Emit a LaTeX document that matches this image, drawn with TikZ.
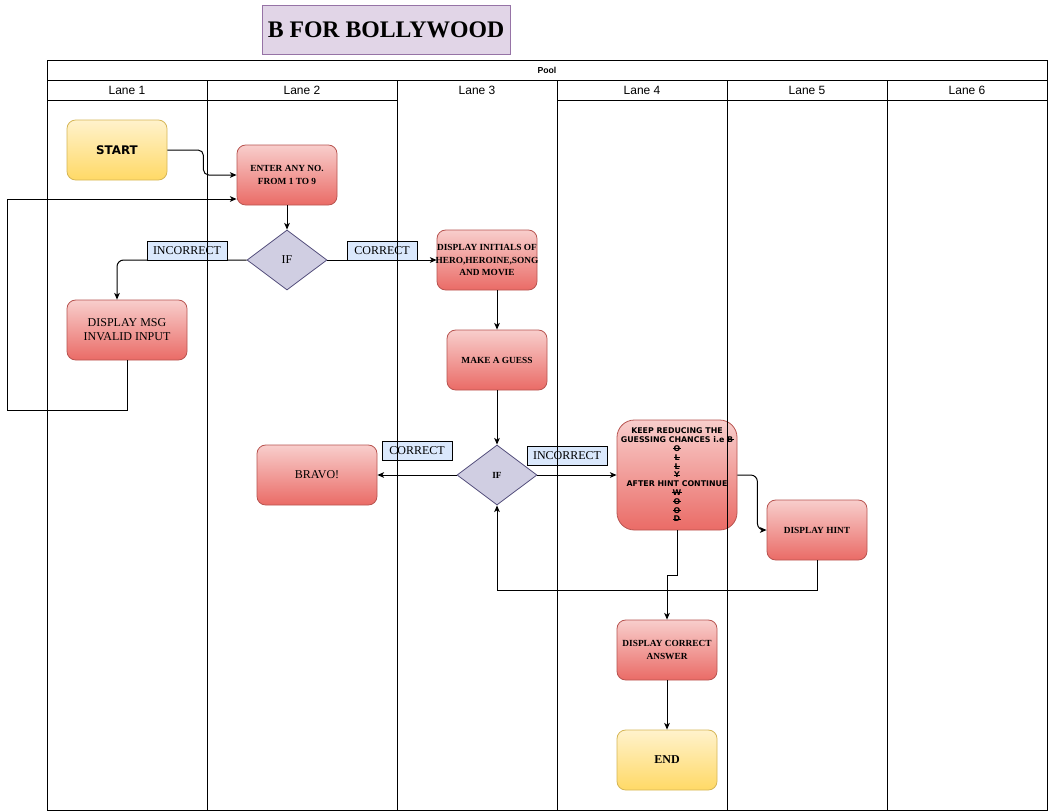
\documentclass[tikz,border=0pt]{standalone}
\usepackage{fontspec}
\setmainfont{Liberation Serif}
\newfontfamily\lanefont{Liberation Sans}
\newfontfamily\verd{DejaVu Sans}
\usetikzlibrary{arrows.meta,shapes.geometric,calc}

\definecolor{redtop}{HTML}{F8CECC}
\definecolor{redbot}{HTML}{EA6B66}
\definecolor{redline}{HTML}{B85450}
\definecolor{yeltop}{HTML}{FFF2CC}
\definecolor{yelbot}{HTML}{FFD966}
\definecolor{yelline}{HTML}{D6B656}
\definecolor{difill}{HTML}{D0CEE2}
\definecolor{diline}{HTML}{56517E}
\definecolor{lblfill}{HTML}{DAE8FC}
\definecolor{ttlfill}{HTML}{E1D5E7}
\definecolor{ttlline}{HTML}{9673A6}

% struck-through letter
\newsavebox\strkbox
\newcommand\strk[1]{\sbox\strkbox{#1}\rlap{\hbox to \wd\strkbox{\hss\rule[0.33em]{1.2\wd\strkbox}{0.6pt}\hss}}\usebox\strkbox}

\begin{document}
\begin{tikzpicture}[x=0.75pt,y=-0.75pt,
  box/.style={inner sep=0pt, align=center, line width=0.6pt, minimum width=75pt, minimum height=45pt},
  redbox/.style={box, draw=redline, top color=redtop, bottom color=redbot, rounded corners=6.5pt},
  yelbox/.style={box, draw=yelline, top color=yeltop, bottom color=yelbot, rounded corners=6.5pt},
  decision/.style={diamond, draw=diline, fill=difill, line width=0.6pt, inner sep=0pt, minimum width=60pt, minimum height=45pt},
  lbl/.style={draw=black, fill=lblfill, line width=0.6pt, inner sep=0pt, minimum height=14.25pt, font=\fontsize{9}{10}\selectfont},
  rtxt/.style={font=\fontsize{7}{9.2}\selectfont\bfseries},
  ntxt/.style={font=\fontsize{9}{10.5}\selectfont},
  conn/.style={line width=0.75pt, -{Stealth[length=5pt,width=4.2pt,inset=1.3pt]}},
  lane/.style={line width=0.75pt, draw=black},
  lanetitle/.style={font=\lanefont\fontsize{9}{10}\selectfont}
]
\useasboundingbox (0,0) rectangle (1048,811);
\fill[white] (0,0) rectangle (1048,811);

% title
\node[draw=ttlline, fill=ttlfill, line width=0.6pt, minimum width=186pt, minimum height=37pt, inner sep=0pt,
      font=\fontsize{17.8}{20}\selectfont\bfseries] (title) at (386,30) {B FOR BOLLYWOOD};

% steps
\node[yelbox, font=\verd\bfseries\fontsize{8.9}{10}\selectfont] (start) at (117,150) {START};
\node[redbox, rtxt] (enter) at (287,175) {ENTER ANY NO.\\FROM 1 TO 9};
\node[decision, ntxt] (if1) at (287,260) {IF};
\node[redbox, rtxt] (init) at (487,260) {\makebox[70pt]{DISPLAY INITIALS OF}\\\makebox[70pt]{HERO,HEROINE,SONG}\\AND MOVIE};
\node[redbox, ntxt, minimum width=90pt] (msg) at (127,330) {DISPLAY MSG\\INVALID INPUT};
\node[redbox, rtxt] (guess) at (497,360) {MAKE A GUESS};
\node[decision, font=\fontsize{7}{8}\selectfont\bfseries] (if2) at (497,475) {IF};
\node[redbox, ntxt, minimum width=90pt] (bravo) at (317,475) {BRAVO!};
\node[redbox, minimum width=90pt, minimum height=82.5pt, rounded corners=13pt,
      font=\verd\bfseries\fontsize{5.9}{6.6}\selectfont] (keep) at (677,475)
  {KEEP REDUCING THE\\GUESSING CHANCES i.e \strk{B}\\\strk{O}\\\strk{L}\\\strk{L}\\\strk{Y}\\AFTER HINT CONTINUE\\\strk{W}\\\strk{O}\\\strk{O}\\\strk{D}};
\node[redbox, rtxt] (hint) at (817,530) {DISPLAY HINT};
\node[redbox, rtxt] (answer) at (667,650) {DISPLAY CORRECT\\ANSWER};
\node[yelbox, font=\fontsize{9}{10}\selectfont\bfseries] (end) at (667,760) {END};

% connectors
\draw[conn, rounded corners=4pt] (start.east) -- ($(start.east)+(36,0)$) |- (enter.west);
\draw[conn] (msg.south) |- ($(msg.south)+(-120,50)$) |- ($(enter.west)+(0,24)$);
\draw[conn] (enter.south) -- (if1.north);
\draw[conn, rounded corners=5pt] (if1.west) -| ($(msg.north)+(-10,0)$);
\draw[conn] (if1.east) -- (init.west);
\draw[conn] (init.south -| guess.north) -- (guess.north);
\draw[conn] (guess.south) -- (if2.north);
\draw[conn] (if2.west) -- (bravo.east);
\draw[conn] (if2.east) -- (keep.west);
\draw[conn, rounded corners=5pt] (keep.east) -- ($(keep.east)+(20,0)$) |- (hint.west);
\draw[conn] (hint.south) -- ($(hint.south)+(0,30)$) -| (if2.south);
\draw[conn] (keep.south) -- ($(keep.south)+(0,45)$) -| (answer.north);
\draw[conn] (answer.south) -- (end.north);

% edge labels
\node[lbl, minimum width=60pt] (l1) at (187,250.5) {INCORRECT};
\node[lbl, minimum width=52.5pt] (l2) at (382,250.5) {CORRECT};
\node[lbl, minimum width=52.5pt] (l3) at (417,450.5) {CORRECT};
\node[lbl, minimum width=60pt] (l4) at (567,455.5) {INCORRECT};

% pool and lanes
\draw[lane] (47,60) rectangle (1047,810);
\draw[lane] (47,80) -- (1047,80);
\draw[lane] (47,100) -- (397,100);
\draw[lane] (557,100) -- (1047,100);
\foreach \xx in {207,397,557,727,887} \draw[lane] (\xx,80) -- (\xx,810);
\node[font=\lanefont\bfseries\fontsize{6.5}{7}\selectfont] (pool) at (547,70) {Pool};
\node[lanetitle] (t1) at (127,90) {Lane 1};
\node[lanetitle] (t2) at (302,90) {Lane 2};
\node[lanetitle] (t3) at (477,90) {Lane 3};
\node[lanetitle] (t4) at (642,90) {Lane 4};
\node[lanetitle] (t5) at (807,90) {Lane 5};
\node[lanetitle] (t6) at (967,90) {Lane 6};
\end{tikzpicture}
\end{document}
